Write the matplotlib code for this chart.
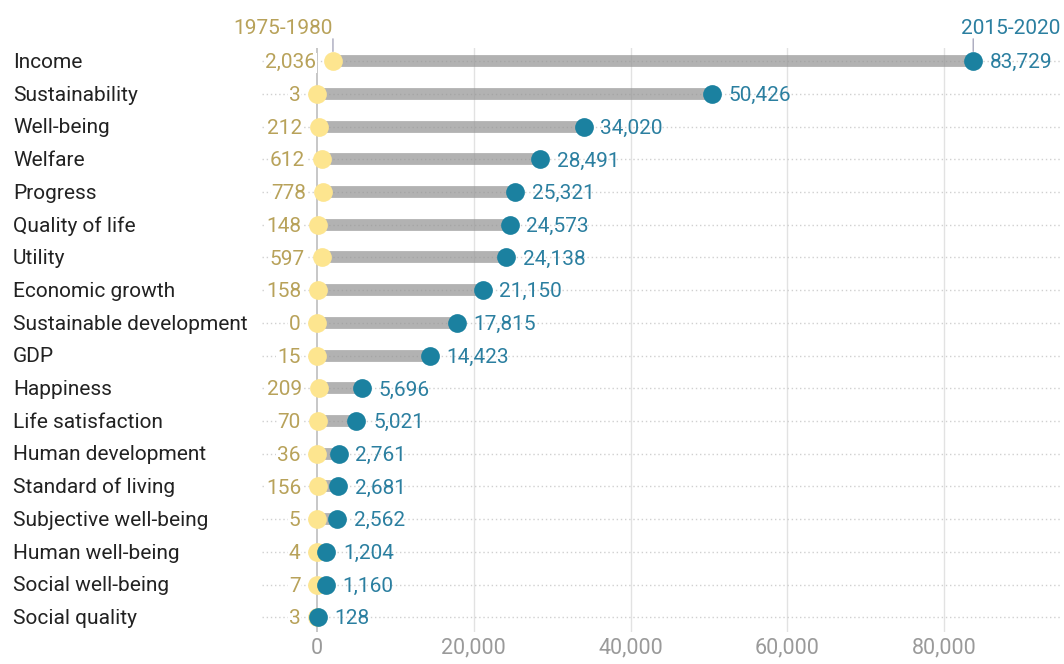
import matplotlib.pyplot as plt

plt.rcParams['font.family'] = ['Roboto', 'DejaVu Sans']

# --- données ---
categories = ["Income", "Sustainability", "Well-being", "Welfare", "Progress",
              "Quality of life", "Utility", "Economic growth", "Sustainable development",
              "GDP", "Happiness", "Life satisfaction", "Human development",
              "Standard of living", "Subjective well-being", "Human well-being",
              "Social well-being", "Social quality"]
val_1975 = [2036, 3, 212, 612, 778, 148, 597, 158, 0, 15, 209, 70, 36, 156, 5, 4, 7, 3]
val_2015 = [83729, 50426, 34020, 28491, 25321, 24573, 24138, 21150, 17815, 14423,
            5696, 5021, 2761, 2681, 2562, 1204, 1160, 128]
xticks = [0, 20000, 40000, 60000, 80000]

GOLD = "#b8a25a"
YELLOW = "#fde58f"
TEAL = "#1b81a0"
TEAL_TXT = "#2b7fa0"
FS = 15

W, H = 1064, 664
fig = plt.figure(figsize=(W / 100, H / 100), dpi=100)
ax_l, ax_r, ax_t, ax_b = 262, 1060, 48, 632
ax = fig.add_axes([ax_l / W, 1 - ax_b / H, (ax_r - ax_l) / W, (ax_b - ax_t) / H])

ppu = (944 - 317) / 80000.0
ax.set_xlim(-(317 - ax_l) / ppu, (ax_r - 317) / ppu)
ax.set_ylim(17.45, -0.4)

for s in ax.spines.values():
    s.set_visible(False)
ax.set_yticks([])
ax.set_xticks(xticks)
ax.set_xticklabels([f"{t:,}" for t in xticks], color="#9a9a9a", fontsize=15.5)
ax.tick_params(axis="x", length=0, pad=4)

# grille
for t in xticks[1:]:
    ax.axvline(t, color="#e2e2e2", lw=1, zorder=0)
ax.axvline(0, color="#bdbdbd", lw=1.2, zorder=0)
for i in range(len(categories)):
    ax.axhline(i, color="#d0d0d0", lw=1, ls=(0, (1, 2)), zorder=0)

ys = list(range(len(categories)))
for i in ys:
    ax.plot([val_1975[i], val_2015[i]], [i, i], color="#959595", alpha=0.72,
            lw=8.5, solid_capstyle="butt", zorder=1)
ax.plot(val_1975, ys, "o", color=YELLOW, ms=13.5, mew=0, zorder=2)
ax.plot(val_2015, ys, "o", color=TEAL, ms=13.5, mew=0, zorder=3)

for i in ys:
    ax.annotate(f"{val_1975[i]:,}", (val_1975[i], i), xytext=(-12, -1.2),
                textcoords="offset points", ha="right", va="center",
                color=GOLD, fontsize=FS, zorder=4,
                bbox=dict(facecolor="white", edgecolor="none", pad=0.5))
    ax.annotate(f"{val_2015[i]:,}", (val_2015[i], i), xytext=(12, -1.2),
                textcoords="offset points", ha="left", va="center",
                color=TEAL_TXT, fontsize=FS, zorder=4)
    fig.text(13 / W, 1 - (62.5 + i * (617 - 61) / 17) / H, categories[i],
             ha="left", va="center", fontsize=FS, color="#222222")

# en-têtes des périodes
ax.annotate("1975-1980", (val_1975[0], 0), xytext=(-36, 19.5), textcoords="offset points",
            ha="center", va="baseline", color=GOLD, fontsize=FS, annotation_clip=False)
ax.annotate("2015-2020", (val_2015[0], 0), xytext=(27, 19.5), textcoords="offset points",
            ha="center", va="baseline", color=TEAL_TXT, fontsize=FS, annotation_clip=False)
for v in (val_1975[0], val_2015[0]):
    ax.annotate("", xy=(v, 0), xycoords="data", xytext=(0, 16), textcoords="offset points",
                arrowprops=dict(arrowstyle="-", color="#a8a8bc", lw=1,
                                shrinkA=0, shrinkB=7), annotation_clip=False)

fig.savefig("out.png", dpi=100)
